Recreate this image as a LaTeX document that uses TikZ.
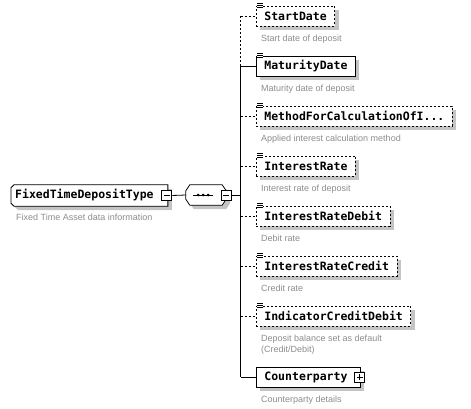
\documentclass[tikz,border=0pt]{standalone}
\usepackage{fontspec}
\setmonofont{DejaVu Sans Mono}
\setsansfont{Liberation Sans}
\usetikzlibrary{positioning, shadows, calc, backgrounds}
\definecolor{descgray}{HTML}{8C8C8C}
\definecolor{shadowgray}{HTML}{C4C4C4}

\begin{document}
\begin{tikzpicture}[x=1pt, y=1pt,
    shade box/.style={drop shadow={shadow xshift=4pt, shadow yshift=-4pt, fill=shadowgray, opacity=1}},
    elem/.style={rectangle, draw, line width=0.8pt, fill=white, minimum height=20pt, inner xsep=8pt, inner ysep=0pt,
        font=\fontsize{11.5}{13}\selectfont\ttfamily\bfseries, anchor=west, shade box},
    optelem/.style={elem, dash pattern=on 2pt off 2pt},
    desc/.style={anchor=north west, inner sep=0pt, text=descgray, align=left, font=\fontsize{9}{11}\selectfont\sffamily},
    toggle/.style={rectangle, draw, line width=0.8pt, fill=white, minimum size=10pt, inner sep=0pt},
    minus/.style={toggle, path picture={\draw[line width=0.8pt] ([xshift=2pt]path picture bounding box.west) -- ([xshift=-2pt]path picture bounding box.east);}},
    plus/.style={toggle, path picture={\draw[line width=0.8pt] ([xshift=2pt]path picture bounding box.west) -- ([xshift=-2pt]path picture bounding box.east)
        ([yshift=2pt]path picture bounding box.south) -- ([yshift=-2pt]path picture bounding box.north);}},
    link/.style={line width=0.8pt},
    optlink/.style={link, dash pattern=on 2pt off 2pt},
    icon/.style={line width=0.6pt}
]
    \useasboundingbox (0,0) rectangle (471,-409);

    % Root type
    \node[rectangle, minimum height=21pt, inner xsep=4pt, inner ysep=0pt, anchor=west,
        font=\fontsize{11.5}{13}\selectfont\ttfamily\bfseries] (root) at (11,-195.5) {FixedTimeDepositType\hspace*{10pt}};
    \begin{scope}[on background layer]
        \path[draw, link, fill=white, shade box] ([xshift=3pt]root.north west) -- (root.north east) -- (root.south east)
            -- ([xshift=3pt]root.south west) -- ([yshift=3pt]root.south west) -- ([yshift=-3pt]root.north west) -- cycle;
    \end{scope}
    \node[minus] (rootminus) at ([xshift=-1pt]root.east) {};
    \node[desc] (rootdesc) at ([xshift=5pt, yshift=-8pt]root.south west) {Fixed Time Asset data information};

    % Sequence compositor
    \node[rectangle, minimum width=40pt, minimum height=20pt, inner sep=0pt] (seq) at (206,-195) {};
    \begin{scope}[on background layer]
        \path[draw, link, fill=white, shade box] ([xshift=4pt]seq.north west) -- ([xshift=-4pt]seq.north east)
            -- ([yshift=-6pt]seq.north east) -- ([yshift=6pt]seq.south east) -- ([xshift=-4pt]seq.south east)
            -- ([xshift=4pt]seq.south west) -- ([yshift=6pt]seq.south west) -- ([yshift=-6pt]seq.north west) -- cycle;
    \end{scope}
    \draw[link] ([xshift=-13pt]seq.center) -- ([xshift=7pt]seq.center);
    \foreach \dx in {-8,-3,2}
        \fill ([xshift=\dx pt]seq.center) circle (1.5pt);
    \node[minus] (seqminus) at (226,-195.5) {};

    \coordinate (spine) at (240.5,-195.5);

    % Child elements
    \node[optelem] (start) at (256,-16) {StartDate};
    \node[elem] (maturity) at (256,-66) {MaturityDate};
    \node[optelem] (method) at (256,-116) {MethodForCalculationOfI...};
    \node[optelem] (rate) at (256,-166) {InterestRate};
    \node[optelem] (debit) at (256,-216) {InterestRateDebit};
    \node[optelem] (credit) at (256,-266) {InterestRateCredit};
    \node[optelem] (indicator) at (256,-316) {IndicatorCreditDebit};
    \node[elem] (counter) at (256,-377) {Counterparty\hspace*{5pt}};
    \node[plus] (counterplus) at ([xshift=-1pt]counter.east) {};

    % Descriptions
    \node[desc] at ([xshift=5pt, yshift=-8pt]start.south west) {Start date of deposit};
    \node[desc] at ([xshift=5pt, yshift=-8pt]maturity.south west) {Maturity date of deposit};
    \node[desc] at ([xshift=5pt, yshift=-8pt]method.south west) {Applied interest calculation method};
    \node[desc] at ([xshift=5pt, yshift=-8pt]rate.south west) {Interest rate of deposit};
    \node[desc] at ([xshift=5pt, yshift=-8pt]debit.south west) {Debit rate};
    \node[desc] at ([xshift=5pt, yshift=-8pt]credit.south west) {Credit rate};
    \node[desc] at ([xshift=5pt, yshift=-8pt]indicator.south west) {Deposit balance set as default\\(Credit/Debit)};
    \node[desc] at ([xshift=5pt, yshift=-8pt]counter.south west) {Counterparty details};

    % Simple content icons
    \foreach \n in {start, maturity, method, rate, debit, credit, indicator} {
        \fill[white] ([xshift=1pt, yshift=-3pt]\n.north west) rectangle ([xshift=7pt, yshift=3pt]\n.north west);
        \foreach \dy in {2,0,-2}
            \draw[icon] ([xshift=1pt, yshift=\dy pt]\n.north west) -- ([xshift=6.5pt, yshift=\dy pt]\n.north west);
    }

    % Connectors
    \draw[link] (rootminus.east) -- (seq.west);
    \draw[link, line width=1.6pt] (seqminus.east) -- (spine);
    \draw[optlink] (start.west -| spine) -- (maturity.west -| spine);
    \draw[link] (maturity.west -| spine) -- (counter.west -| spine);
    \foreach \n in {start, method, rate, debit, credit, indicator}
        \draw[optlink] (\n.west -| spine) -- (\n.west);
    \foreach \n in {maturity, counter}
        \draw[link] (\n.west -| spine) -- (\n.west);
\end{tikzpicture}
\end{document}
